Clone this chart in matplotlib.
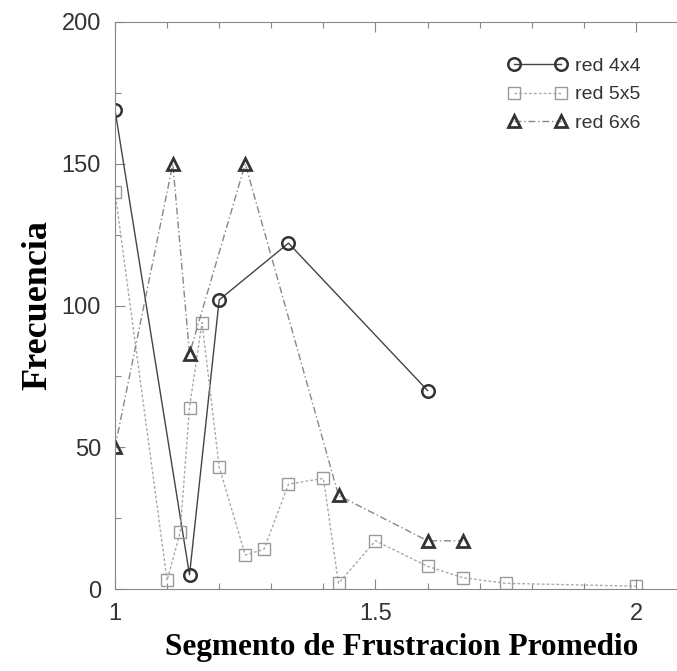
import matplotlib
matplotlib.use("Agg")
import matplotlib.pyplot as plt
from matplotlib.ticker import MultipleLocator

# Data
x_4x4 = [1.0, 1.143, 1.2, 1.333, 1.6]
y_4x4 = [169, 5, 102, 122, 70]

x_5x5 = [1.0, 1.1, 1.125, 1.143, 1.167, 1.2, 1.25, 1.286, 1.333, 1.4, 1.429,
         1.5, 1.6, 1.667, 1.75, 2.0]
y_5x5 = [140, 3, 20, 64, 94, 43, 12, 14, 37, 39, 2, 17, 8, 4, 2, 1]

x_6x6 = [1.0, 1.111, 1.143, 1.25, 1.429, 1.6, 1.667]
y_6x6 = [50, 150, 83, 150, 33, 17, 17]

labels = ["red 4x4", "red 5x5", "red 6x6"]
x_ticks = [1, 1.5, 2]
x_ticklabels = ["1", "1.5", "2"]
y_ticks = [0, 50, 100, 150, 200]

fig = plt.figure(figsize=(6.77, 6.71), dpi=100)
ax = fig.add_axes([115/677, 1-589/671, 1-115/677, (589-22)/671])

ax.plot(x_4x4, y_4x4, color="#444444", lw=1.0, ls="-", marker="o", ms=9,
        mfc="none", mec="#333333", mew=1.8, label=labels[0])
ax.plot(x_5x5, y_5x5, color="#aaaaaa", lw=1.0, ls=(0, (2, 1.5)), marker="s", ms=8,
        mfc="none", mec="#999999", mew=1.0, label=labels[1])
ax.plot(x_6x6, y_6x6, color="#888888", lw=1.0, ls=(0, (5, 2, 1, 2)), marker="^", ms=9,
        mfc="none", mec="#333333", mew=2.0, label=labels[2])

ax.set_xlim(1, 1 + (677-115)/521)
ax.set_ylim(0, 200)
ax.set_xticks(x_ticks)
ax.set_xticklabels(x_ticklabels)
ax.set_yticks(y_ticks)
ax.xaxis.set_minor_locator(MultipleLocator(0.1))
ax.yaxis.set_minor_locator(MultipleLocator(25))

ax.spines["right"].set_visible(False)
for s in ["left", "bottom", "top"]:
    ax.spines[s].set_color("#888888")
    ax.spines[s].set_linewidth(0.8)

ax.tick_params(which="both", direction="in", top=True, right=False,
               color="#888888", width=0.8)
ax.tick_params(which="major", length=7, labelsize=17, labelcolor="#333333", pad=10)
ax.tick_params(which="minor", length=4)
for lab in ax.get_xticklabels() + ax.get_yticklabels():
    lab.set_family("Liberation Sans")

ax.set_xlabel("Segmento de Frustracion Promedio", family="Liberation Serif",
              fontweight="bold", fontsize=22.5, labelpad=6)
ax.xaxis.label.set_x(0.51)
ax.set_ylabel("Frecuencia", family="Liberation Serif", fontweight="bold",
              fontsize=26, labelpad=5)

leg = ax.legend(loc="upper left", bbox_to_anchor=(491/677, 1-40/671),
                bbox_transform=fig.transFigure, frameon=False,
                numpoints=2, handlelength=3.02, handletextpad=0.4,
                labelspacing=0.55, prop={"family": "Liberation Sans", "size": 14})
for t in leg.get_texts():
    t.set_color("#333333")

fig.savefig("out.png", dpi=100)
